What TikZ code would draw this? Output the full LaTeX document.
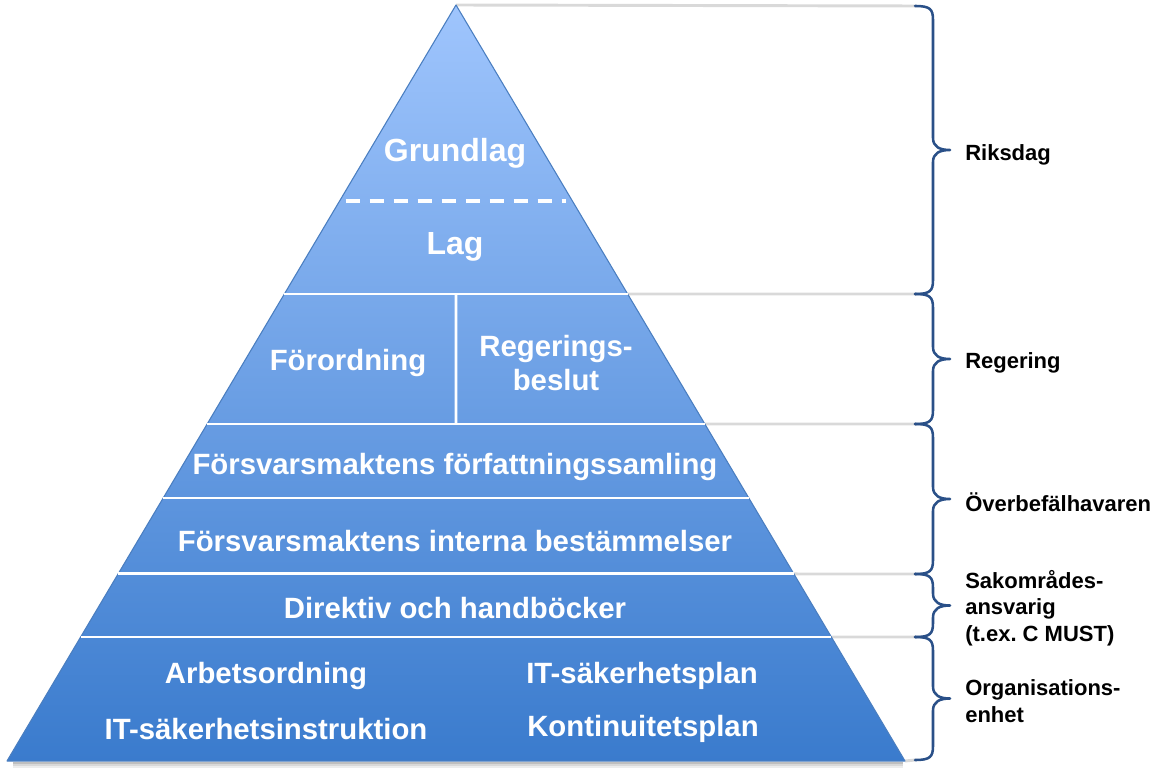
\documentclass[tikz,border=0pt]{standalone}
\usepackage{fontspec}
\setmainfont{Liberation Sans}
\usetikzlibrary{calc}
\definecolor{ptop}{HTML}{9FC5FD}
\definecolor{pbot}{HTML}{3A7BCD}
\definecolor{pedge}{HTML}{4A7EC0}
\definecolor{bracec}{HTML}{2A5088}
\definecolor{guide}{HTML}{D9D9D9}
\newcommand{\drawbrace}[2]{%
  \pgfmathsetmacro\ymid{(#1+#2)/2}%
  \draw[bracestyle] (915,#1) .. controls (930,#1) and (933,#1+3) .. (933,#1+14)
    -- (933,\ymid-12) .. controls (933,\ymid-3) and (940,\ymid) .. (950,\ymid)
    .. controls (940,\ymid) and (933,\ymid+3) .. (933,\ymid+12)
    -- (933,#2-14) .. controls (933,#2-3) and (930,#2) .. (915,#2);
}
\begin{document}
\frenchspacing
\begin{tikzpicture}[x=0.75pt,y=-0.75pt,
  pyrtext/.style={text=white,font=\fontsize{22}{26}\selectfont\bfseries,align=center,inner sep=0pt},
  bigtext/.style={text=white,font=\fontsize{24}{28}\selectfont\bfseries,align=center,inner sep=0pt},
  sidetext/.style={text=black,font=\fontsize{16.5}{20}\selectfont\bfseries,align=left,anchor=west,inner sep=0pt},
  divider/.style={draw=white,line width=2.2pt},
  guideline/.style={draw=guide,line width=2.2pt},
  bracestyle/.style={draw=bracec,line width=1.9pt,line join=round,line cap=round}]
\useasboundingbox (0,0) rectangle (1155,773);

% pyramid corners
\coordinate (apex) at (456,5);
\coordinate (bl) at (7,761);
\coordinate (br) at (905,761);

% level edges
\foreach \n/\t in {D/0.2593,1/0.3823,2/0.5542,3/0.6521,4/0.7526,5/0.8360}{
  \coordinate (L\n) at ($(apex)!\t!(bl)$);
  \coordinate (R\n) at ($(apex)!\t!(br)$);
}

% brace ends
\coordinate (B0) at (915,6);
\coordinate (B1) at (915,294);
\coordinate (B2) at (915,424);
\coordinate (B3) at (915,574);
\coordinate (B4) at (915,637);
\coordinate (B5) at (915,760);

% guide lines
\draw[guideline] (apex) -- (B0);
\draw[guideline] (R1) -- (B1);
\draw[guideline] (R2) -- (B2);
\draw[guideline] (R4) -- (B3);
\draw[guideline] (R5) -- (B4);
\draw[guideline] (br) -- (B5);

% shadow
\foreach \o/\op in {2/0.25,4/0.15,6/0.07}{
  \draw[black,opacity=\op,line width=2pt] ($(bl)+(6,\o)$) -- ($(br)+(-2,\o)$);
}

% pyramid
\shade[top color=ptop,bottom color=pbot] (apex) -- (bl) -- (br) -- cycle;
\draw[pedge,line width=0.8pt,line join=round] (apex) -- (bl) -- (br) -- cycle;

% dividers
\draw[draw=white,line width=2.4pt,dash pattern=on 10.5pt off 7.5pt] ($(LD)+(6,0)$) -- ($(RD)+(-6,0)$);
\draw[divider] (L1) -- (R1);
\draw[divider] (L2) -- (R2);
\draw[divider] (L3) -- (R3);
\draw[divider] (L4) -- (R4);
\draw[divider] (L5) -- (R5);
\draw[divider] ($(L1)!0.5!(R1)$) -- ($(L2)!0.5!(R2)$);

% texts
\node[bigtext] (grundlag) at (455,153) {Grundlag};
\node[bigtext] (lag) at (455,247) {Lag};
\node[pyrtext] (forordning) at (348,363) {Förordning};
\node[pyrtext] (regbeslut) at (556,363) {Regerings-\\beslut};
\node[pyrtext] (fff) at (455,467) {Försvarsmaktens författningssamling};
\node[pyrtext] (fib) at (455,541) {Försvarsmaktens interna bestämmelser};
\node[pyrtext] (dir) at (455,608) {Direktiv och handböcker};
\node[pyrtext] (arb) at (266,676) {Arbetsordning};
\node[pyrtext] (itsi) at (266,729) {IT-säkerhetsinstruktion};
\node[pyrtext] (itsp) at (642,676) {IT-säkerhetsplan};
\node[pyrtext] (kont) at (643,729) {Kontinuitetsplan};

% braces
\drawbrace{6}{294}
\drawbrace{294}{424}
\drawbrace{424}{574}
\drawbrace{574}{637}
\drawbrace{637}{760}

% side labels
\node[sidetext] (riksdag) at (965,155) {Riksdag};
\node[sidetext] (regering) at (965,363) {Regering};
\node[sidetext] (ob) at (965,502) {Överbefälhavaren};
\node[sidetext] (sak) at (965,608) {Sakområdes-\\ansvarig\\(t.ex. C MUST)};
\node[sidetext] (org) at (965,701) {Organisations-\\enhet};
\end{tikzpicture}
\end{document}
